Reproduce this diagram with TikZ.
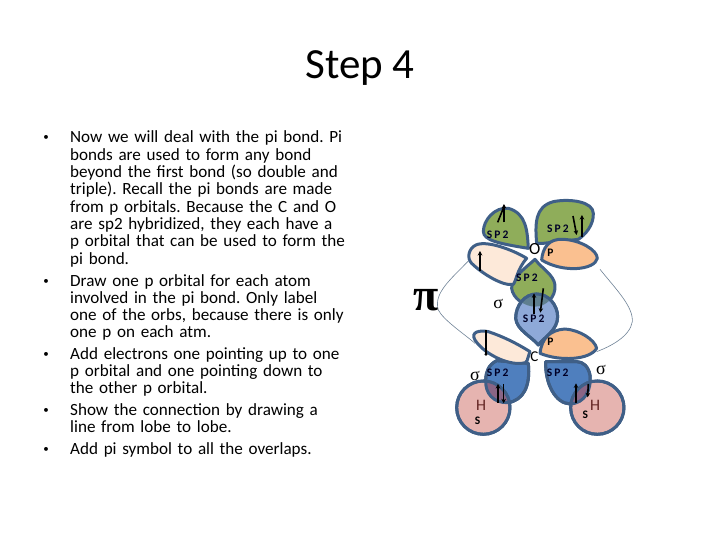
\documentclass[tikz,border=0pt]{standalone}
\usepackage{fontspec}
\setmainfont{Carlito}
\newfontfamily\lib{Liberation Serif}
\definecolor{edgeb}{HTML}{3F5F87}
\definecolor{grn}{HTML}{8FAD5A}
\definecolor{peach}{HTML}{FDE9D9}
\definecolor{orng}{HTML}{FAC090}
\definecolor{bluel}{HTML}{8EA9D8}
\definecolor{blued}{HTML}{4F7FBE}
\definecolor{pinkh}{HTML}{E6B4B0}
\definecolor{lap}{HTML}{5F7F90}
\definecolor{lapb}{HTML}{8A6585}
\definecolor{hdark}{HTML}{632523}
\definecolor{thin}{HTML}{6F8296}
\usetikzlibrary{arrows.meta}
\tikzset{
 lobe/.style={draw=edgeb,line width=3pt,line join=round},
 arr/.style={line width=1.6pt,-{Stealth[length=4.5pt,width=4.5pt]}},
 body/.style={align=left,inner sep=0pt,text width=300pt,font=\fontsize{17.1}{17.3}\selectfont\frenchspacing},
 dot/.style={anchor=base,inner sep=0pt,font=\fontsize{11}{12}\selectfont},
 sp/.style={inner sep=0pt,font=\fontsize{11.5}{12}\selectfont\bfseries\addfontfeatures{LetterSpace=18},text=black!85!blue},
 pl/.style={inner sep=0pt,font=\fontsize{11.5}{12}\selectfont\bfseries},
 sig/.style={inner sep=0pt,font=\lib\fontsize{18}{18}\selectfont},
 thinl/.style={draw=thin,line width=.6pt}
}
\begin{document}
\begin{tikzpicture}[x=1pt,y=-1pt]
\path[use as bounding box] (0,0) rectangle (720,540);
\node[inner sep=0pt,font=\fontsize{43}{48}\selectfont] (title) at (360,68) {Step 4};
\foreach \n/\y in {a/141,b/284,c/357,d/413,e/452}{\node[dot] (bul\n) at (46,\y) {\textbullet};}
\node[body,anchor=base west] (ta) at (70,143) {Now we will deal with the pi bond. Pi\\bonds are used to form any bond\\beyond the first bond (so double and\\triple). Recall the pi bonds are made\\from p orbitals. Because the C and O\\are sp2 hybridized, they each have a\\p orbital that can be used to form the\\pi bond.};
\node[body,anchor=base west] (tb) at (70,286) {Draw one p orbital for each atom\\involved in the pi bond. Only label\\one of the orbs, because there is only\\one p on each atm.};
\node[body,anchor=base west] (tc) at (70,359) {Add electrons one pointing up to one\\p orbital and one pointing down to\\the other p orbital.};
\node[body,anchor=base west] (td) at (70,415) {Show the connection by drawing a\\line from lobe to lobe.};
\node[body,anchor=base west] (te) at (70,454) {Add pi symbol to all the overlaps.};
\begin{scope}[shift={(400,190)},x=.3333pt,y=-.3333pt]
\def\gmid{(405,208) .. controls (375,235) and (333,265) .. (335,295) .. controls (338,325) and (375,350) .. (405,350) .. controls (440,350) and (468,320) .. (465,285) .. controls (462,255) and (425,235) .. (405,208) -- cycle}
\def\bmid{(410,312) .. controls (375,312) and (347,345) .. (347,385) .. controls (350,420) and (395,440) .. (415,465) .. controls (435,440) and (473,420) .. (473,380) .. controls (473,345) and (445,312) .. (410,312) -- cycle}
\def\bbl{(385,520) .. controls (392,590) and (370,630) .. (325,638) .. controls (280,640) and (255,610) .. (257,570) .. controls (258,545) and (265,525) .. (290,512) -- cycle}
\def\bbr{(437,515) .. controls (435,580) and (465,640) .. (510,642) .. controls (555,640) and (575,600) .. (570,555) .. controls (565,530) and (550,515) .. (530,515) -- cycle}
\def\hl{(250,653) circle [radius=80]}
\def\hr{(592,653) circle [radius=80]}
\draw[lobe,fill=grn] (385,175) .. controls (382,120) and (378,70) .. (325,55) .. controls (285,50) and (250,90) .. (250,125) .. controls (252,150) and (290,160) .. (385,175) -- cycle;
\draw[lobe,fill=grn] (410,160) .. controls (405,100) and (405,50) .. (460,35) .. controls (510,25) and (580,35) .. (580,70) .. controls (582,105) and (555,135) .. (535,148) -- (430,160) -- cycle;
\draw[lobe,fill=grn] \gmid;
\draw[lobe,fill=bluel] \bmid;
\begin{scope}\clip \gmid; \fill[lap] \bmid; \end{scope}
\draw[lobe] \bmid;
\draw[lobe,fill=peach] (380,205) .. controls (340,180) and (260,150) .. (228,165) .. controls (205,175) and (200,205) .. (215,220) .. controls (245,250) and (310,290) .. (340,283) .. controls (350,270) and (350,240) .. (380,205) -- cycle;
\draw[lobe,fill=orng] (425,210) .. controls (428,175) and (445,145) .. (490,148) .. controls (540,150) and (592,180) .. (592,205) .. controls (585,240) and (490,250) .. (425,210) -- cycle;
\draw[lobe,fill=blued] \bbl;
\draw[lobe,fill=blued] \bbr;
\draw[lobe,fill=pinkh] \hl;
\draw[lobe,fill=pinkh] \hr;
\begin{scope}\clip \hl; \fill[lapb] \bbl; \end{scope}
\begin{scope}\clip \hr; \fill[lapb] \bbr; \end{scope}
\draw[lobe] \hl; \draw[lobe] \hr;
\draw[lobe] \bbl; \draw[lobe] \bbr;
\draw[lobe,fill=peach] (390,485) .. controls (380,510) and (385,520) .. (365,520) .. controls (320,525) and (250,490) .. (225,450) .. controls (210,425) and (240,420) .. (265,425) .. controls (310,440) and (350,460) .. (390,485) -- cycle;
\draw[lobe,fill=orng] (420,490) .. controls (425,445) and (450,420) .. (495,417) .. controls (540,420) and (585,450) .. (590,475) .. controls (570,510) and (480,515) .. (420,490) -- cycle;
\coordinate (p1) at (205,213); \coordinate (p2) at (225,460); \coordinate (p3) at (600,238); \coordinate (p4) at (590,485);
\draw[thinl] (p1) .. controls (150,270) and (100,310) .. (115,360) .. controls (130,390) and (190,430) .. (p2);
\draw[thinl] (p3) .. controls (650,300) and (700,350) .. (697,395) .. controls (690,440) and (630,470) .. (p4);
\draw[arr] (312,97) -- (312,42);
\draw[line width=1.6pt] (293,97) -- (312,50);
\draw[arr] (519,78) -- (530,135);
\draw[arr] (546,140) -- (546,75);
\draw[arr] (240,242) -- (240,183);
\draw[arr] (402,372) -- (402,310);
\draw[arr] (430,295) -- (421,368);
\draw[line width=1.6pt] (258,420) -- (258,492);
\fill (258,493) circle [radius=5];
\draw[arr] (294,638) -- (294,582);
\draw[arr] (311,582) -- (311,640);
\draw[arr] (528,640) -- (528,580);
\draw[arr] (565,582) -- (563,622);
\node[sp] (s1) at (293,135) {SP2};
\node[sp] (s2) at (474,115) {SP2};
\node[sp] (s3) at (381,262) {SP2};
\node[sp] (s4) at (401,385) {SP2};
\node[sp] (s5) at (293,548) {SP2};
\node[sp] (s6) at (473,548) {SP2};
\node[pl] (p5) at (451,187) {P};
\node[pl] (p6) at (451,456) {P};
\node[inner sep=0pt,font=\fontsize{17}{17}\selectfont] (oo) at (404,176) {O};
\node[inner sep=0pt,font=\fontsize{15}{15}\selectfont] (cc) at (403,500) {C};
\node[sig] (g1) at (295,342) {σ};
\node[sig] (g2) at (225,557) {σ};
\node[sig] (g3) at (603,539) {σ};
\node[inner sep=0pt,font=\lib\bfseries\fontsize{46}{46}\selectfont] (pi) at (77,332) {π};
\node[inner sep=0pt,text=hdark,font=\fontsize{16}{16}\selectfont] (h1) at (243,645) {H};
\node[inner sep=0pt,text=hdark,font=\fontsize{16}{16}\selectfont] (h2) at (585,645) {H};
\node[pl] (ss1) at (233,692) {S};
\node[pl] (ss2) at (556,673) {S};
\end{scope}
\end{tikzpicture}
\end{document}
